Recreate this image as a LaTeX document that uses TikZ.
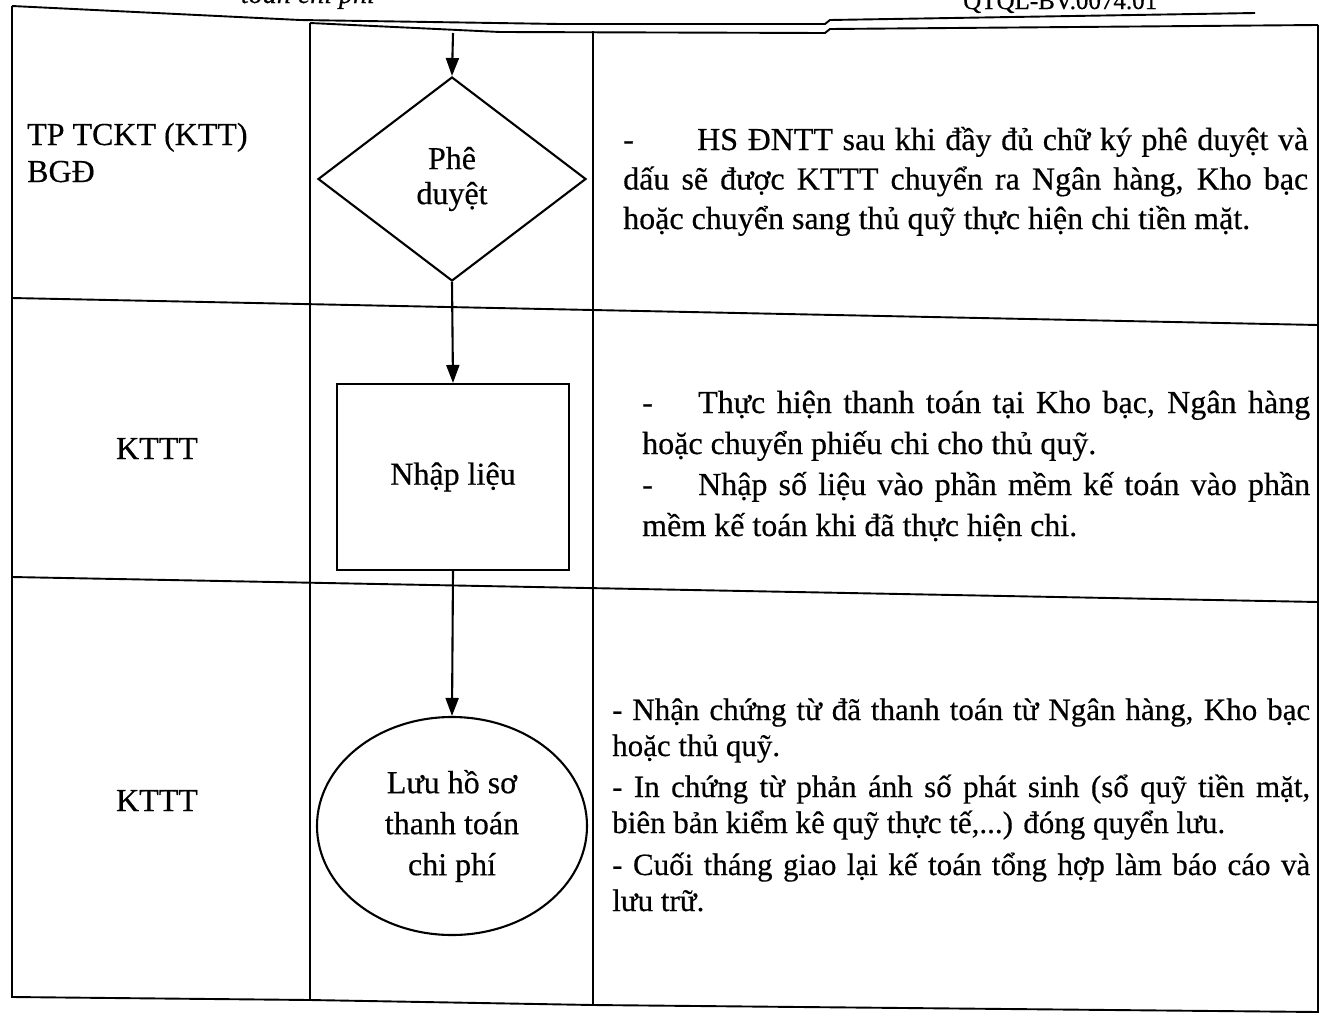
\documentclass[tikz,border=0pt]{standalone}
\usepackage{fontspec}
\setmainfont{Liberation Serif}[FakeBold=0.4]
\usetikzlibrary{shapes.geometric,arrows.meta}
\newcommand{\mypar}[4]{\parbox[t]{#1}{\fontsize{#2}{#3}\selectfont\tolerance=10000\hbadness=10000\relax #4}}
\begin{document}
\begin{tikzpicture}[x=1pt,y=-1pt,
  frm/.style={line width=1.9pt},
  flow/.style={draw, line width=2.1pt, inner sep=0pt, font=\fontsize{32}{38}\selectfont, align=center},
  arr/.style={line width=2.1pt, -{Triangle[length=18pt,width=13pt]}},
  lbl/.style={inner sep=0pt, font=\fontsize{32}{38}\selectfont},
  para/.style={inner sep=0pt, anchor=base west}
]
\useasboundingbox (0,0) rectangle (1331,1020);
\fill[white] (0,0) rectangle (1331,1020);

% header (cut off at top, as in the scan)
\begin{scope}
\clip (0,0) rectangle (1331,1020);
\node[anchor=base east, inner sep=0pt, font=\fontsize{28}{30}\selectfont\itshape] (h1) at (375,3) {toán chi phí};
\node[anchor=base west, inner sep=0pt, font=\fontsize{25}{28}\selectfont] (h2) at (963,9) {QTQL-BV.0074.01};
\end{scope}

% table frame
\draw[frm] (12,6) -- (300,20) -- (560,24) -- (825,24) -- (830,20) -- (1255,13);
\draw[frm] (310,23) -- (500,32) -- (825,33) -- (830,29) -- (1318,25);
\draw[frm] (12,6) -- (12,997) -- (310,1000) -- (593,1005) -- (1318,1012) -- (1318,25);
\draw[frm] (310,23) -- (310,1000);
\draw[frm] (593,31) -- (593,1005);
\draw[frm] (12,298) -- (1318,325);
\draw[frm] (12,577) -- (1318,602);

% left column
\node[lbl, anchor=base west] (r1a) at (27,145) {TP TCKT (KTT)};
\node[lbl, anchor=base west] (r1b) at (27,182) {BGĐ};
\node[lbl, anchor=base] (r2) at (157,459) {KTTT};
\node[lbl, anchor=base] (r3) at (157,811) {KTTT};

% flow
\coordinate (start) at (453,33);
\node[flow, shape=diamond, minimum width=268pt, minimum height=204pt, font=\fontsize{32}{35}\selectfont] (d) at (452,179) {Phê\\duyệt};
\node[flow, rectangle, minimum width=232pt, minimum height=186pt] (r) at (453,477) {Nhập liệu};
\node[flow, ellipse, minimum width=270pt, minimum height=218pt, font=\fontsize{32}{41}\selectfont] (e) at (452,826) {Lưu hồ sơ\\thanh toán\\chi phí};
\draw[arr] (start) -- (d.north);
\draw[arr] (d.south) -- (r.north);
\draw[arr] (r.south) -- (e.north);

% right column
\node[para] (t1) at (623,150) {\mypar{685pt}{32}{39.5}{\makebox[74pt][l]{-}HS ĐNTT sau khi đầy đủ chữ ký phê duyệt và\linebreak dấu sẽ được KTTT chuyển ra Ngân hàng, Kho bạc\linebreak hoặc chuyển sang thủ quỹ thực hiện chi tiền mặt.}};
\node[para] (t2) at (642,413) {\mypar{668pt}{32}{41}{\makebox[56pt][l]{-}Thực hiện thanh toán tại Kho bạc, Ngân hàng\linebreak hoặc chuyển phiếu chi cho thủ quỹ.\par\makebox[56pt][l]{-}Nhập số liệu vào phần mềm kế toán vào phần\linebreak mềm kế toán khi đã thực hiện chi.}};
\node[para] (t3a) at (612,720) {\mypar{698pt}{31}{36}{- Nhận chứng từ đã thanh toán từ Ngân hàng, Kho bạc\linebreak hoặc thủ quỹ.}};
\node[para] (t3b) at (612,797) {\mypar{698pt}{31}{36}{- In chứng từ phản ánh số phát sinh (sổ quỹ tiền mặt,\linebreak biên bản kiểm kê quỹ thực tế,...) đóng quyển lưu.}};
\node[para] (t3c) at (612,875) {\mypar{698pt}{31}{36}{- Cuối tháng giao lại kế toán tổng hợp làm báo cáo và\linebreak lưu trữ.}};
\end{tikzpicture}
\end{document}
